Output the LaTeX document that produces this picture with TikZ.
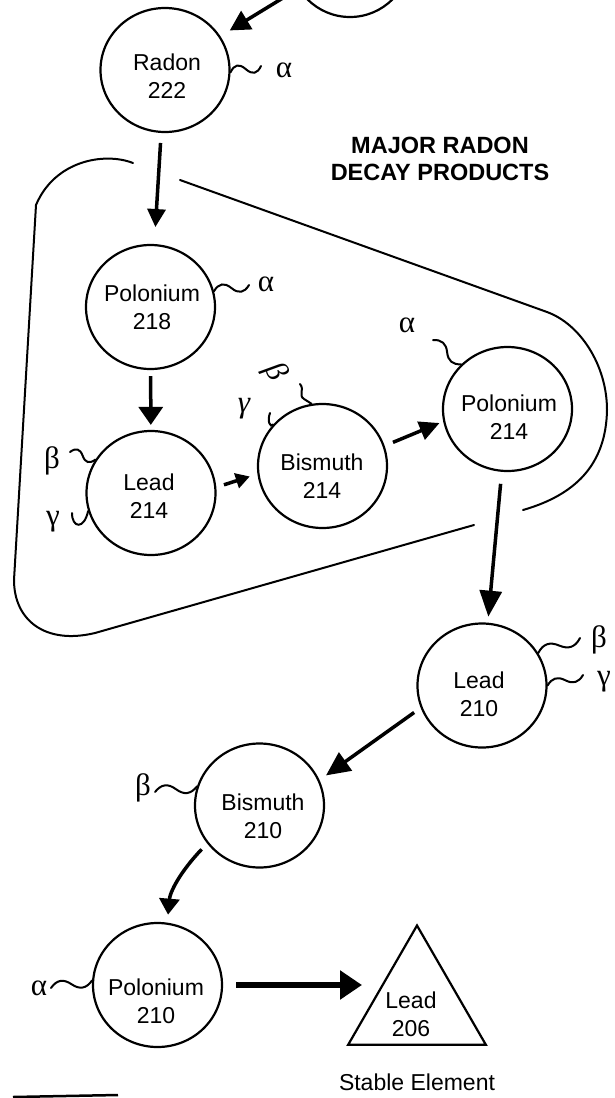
\documentclass[tikz,border=0pt]{standalone}
\usepackage{fontspec}
\setmainfont{Liberation Sans}
\newfontfamily\grk{Liberation Serif}
\usetikzlibrary{arrows.meta,calc,shapes.geometric}
\newcommand\decaywave[3]{\draw[wig] (#1) .. controls ($(#1)!0.17!(#2)!#3!90:(#2)$) and ($(#1)!0.33!(#2)!#3!90:(#2)$) .. ($(#1)!0.5!(#2)$) .. controls ($(#1)!0.67!(#2)!#3!-90:(#2)$) and ($(#1)!0.83!(#2)!#3!-90:(#2)$) .. (#2);}
\tikzset{
  elem/.style={ellipse, draw, line width=2.2pt, minimum width=129pt, minimum height=124pt, inner sep=0pt},
  txt/.style={font=\fontsize{23}{28}\selectfont, align=center, inner sep=0pt},
  greek/.style={font=\grk\fontsize{31}{31}\selectfont, inner sep=0pt},
  wig/.style={line width=2pt, line cap=round},
  arr/.style={line width=3.5pt, -{Triangle[length=18pt,width=18pt]}},
  bound/.style={line width=2pt, line cap=round}
}
\begin{document}
\begin{tikzpicture}[x=1pt,y=-1pt]
\useasboundingbox (0,0) rectangle (614,1098);
\fill[white] (0,0) rectangle (614,1098);
\clip (0,0) rectangle (614,1098);

% nodes
\node[circle, draw, line width=2.2pt, minimum size=120pt, inner sep=0pt] (topc) at (350,-43) {};
\node[elem] (radon) at (165,70) {};
\node[elem] (po218) at (150.5,307) {};
\node[elem] (lead214) at (151,493) {};
\node[elem] (bi214) at (322.5,466) {};
\node[elem] (po214) at (507.5,409) {};
\node[elem] (lead210) at (482,685.5) {};
\node[elem] (bi210) at (259.5,805.5) {};
\node[elem] (po210) at (157.5,985) {};
\node[regular polygon, regular polygon sides=3, draw, line width=2.2pt, minimum size=159pt, inner sep=0pt] (lead206) at (417,1005) {};

% texts
\node[txt] (radont) at (167,76) {Radon\\222};
\node[txt] (po218t) at (152,307) {Polonium\\218};
\node[txt] (lead214t) at (149,496) {Lead\\214};
\node[txt] (bi214t) at (322,476) {Bismuth\\214};
\node[txt] (po214t) at (509,417) {Polonium\\214};
\node[txt] (lead210t) at (479,694) {Lead\\210};
\node[txt] (bi210t) at (263,816) {Bismuth\\210};
\node[txt] (po210t) at (156,1001) {Polonium\\210};
\node[txt] (lead206t) at (411,1014) {Lead\\206};
\node[txt] (stable) at (417,1082) {Stable Element};
\node[font=\fontsize{23.5}{27}\selectfont\bfseries, align=center, inner sep=0pt] (title) at (440,158.5) {MAJOR RADON\\DECAY PRODUCTS};

% boundary of the major decay products
\draw[bound] (133,163) .. controls (105,152) and (55,160) .. (36,205)
  -- (14,580) .. controls (14,620) and (45,645) .. (95,633) -- (474,525);
\draw[bound] (523,510) .. controls (575,495) and (606,465) .. (607,410)
  .. controls (607,365) and (580,324) .. (547,312) -- (180,180);

% decay arrows
\draw[arr, -{Triangle[length=20pt,width=21pt]}, shorten >=11pt] (topc) -- (radon);
\draw[arr, shorten <=10pt, shorten >=17pt] (radon) -- (po218);
\draw[arr, -{Triangle[length=18pt,width=24pt]}, shorten <=6pt, shorten >=5pt] (po218) -- (lead214);
\draw[arr, -{Triangle[length=14pt,width=15pt]}, shorten <=8pt, shorten >=8pt] (lead214.5) -- (bi214.187);
\draw[arr, -{Triangle[length=20pt,width=19pt]}, shorten <=9pt, shorten >=4pt] (bi214.18) -- (po214.191);
\draw[arr, -{Triangle[length=26pt,width=22pt]}, shorten <=12pt, shorten >=6pt] (po214) -- (lead210);
\draw[arr, -{Triangle[length=24pt,width=22pt]}, shorten <=8pt, shorten >=8pt] (lead210.200) -- (bi210.23);
\draw[arr, -{Triangle[length=16pt,width=20pt]}, shorten <=8pt, shorten >=8pt] (bi210.216) .. controls (180,872) and (170,892) .. (po210.81);
\draw[arr, line width=6pt, -{Triangle[length=22pt,width=28pt]}, shorten <=13pt, shorten >=55pt] (po210) -- (po210 -| lead206);

% emissions
\decaywave{radon.-2}{261,66}{7pt}
\node[greek] (a1) at (284,70) {α};
\decaywave{po218.14}{249,285}{7pt}
\node[greek] (a2) at (266,284) {α};
\decaywave{lead214.149}{70,452}{6pt}
\node[greek] (b1) at (52,461) {β};
\draw[wig] (72,513) .. controls (72,528) and (84,530) .. (lead214.196);
\node[greek] (g1) at (53,522) {γ};
\draw[wig] (300,384) .. controls (305,390) and (298,395) .. (304,399) .. controls (307,401) and (309,402) .. (bi214.100);
\node[greek, font=\grk\itshape\fontsize{31}{31}\selectfont, rotate=-60] (b2) at (275,372) {β};
\draw[wig] (270,413) .. controls (267,421) and (270,428) .. (bi214.140);
\node[greek, font=\grk\itshape\fontsize{31}{31}\selectfont] (g2) at (244,409) {γ};
\decaywave{po214.136}{433,340}{6pt}
\node[greek] (a3) at (407,325) {α};
\decaywave{lead210.30}{580,638}{7pt}
\node[greek] (b3) at (599,640) {β};
\decaywave{lead210.0}{583,675}{6pt}
\node[greek] (g3) at (604,682) {γ};
\decaywave{bi210.163}{155,792}{7pt}
\node[greek] (b4) at (143,788) {β};
\decaywave{po210.176}{51,988}{7pt}
\node[greek] (a4) at (39,988) {α};

% fragment at the bottom edge
\draw[line width=2.5pt] (13,1097) -- (118,1095);
\end{tikzpicture}
\end{document}
